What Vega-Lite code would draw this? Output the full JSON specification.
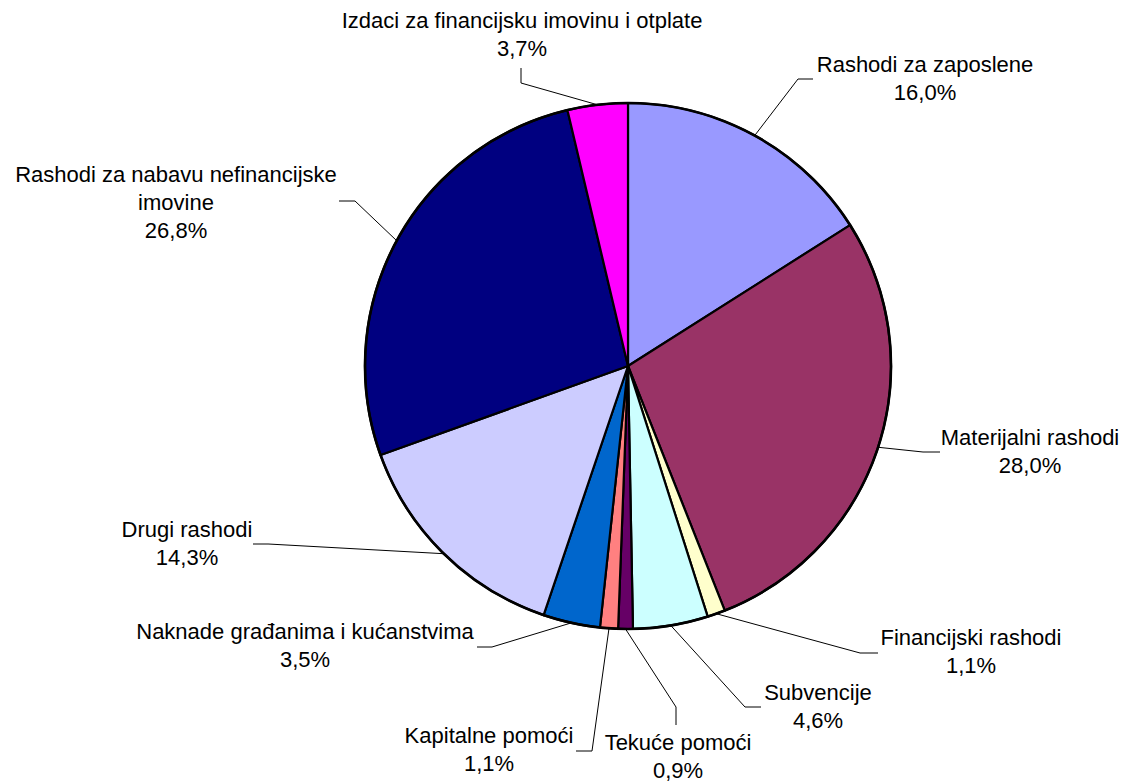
{
  "$schema": "https://vega.github.io/schema/vega-lite/v6.json",
  "width": 998,
  "height": 730,
  "autosize": {"type": "none"},
  "padding": {"left": 129, "top": 1, "right": 0, "bottom": 52},
  "background": "white",
  "config": {"view": {"stroke": null}},
  "data": {
    "values": [
      {"category": "Rashodi za zaposlene", "value": 16.0},
      {"category": "Materijalni rashodi", "value": 28.0},
      {"category": "Financijski rashodi", "value": 1.1},
      {"category": "Subvencije", "value": 4.6},
      {"category": "Tekuće pomoći", "value": 0.9},
      {"category": "Kapitalne pomoći", "value": 1.1},
      {"category": "Naknade građanima i kućanstvima", "value": 3.5},
      {"category": "Drugi rashodi", "value": 14.3},
      {"category": "Rashodi za nabavu nefinancijske imovine", "value": 26.8},
      {"category": "Izdaci za financijsku imovinu i otplate", "value": 3.7}
    ]
  },
  "transform": [
    {"window": [{"op": "row_number", "as": "idx"}]},
    {"joinaggregate": [{"op": "sum", "field": "value", "as": "total"}]},
    {"window": [{"op": "sum", "field": "value", "as": "cum"}], "sort": [{"field": "idx"}], "frame": [null, 0]},
    {"calculate": "(datum.cum - datum.value / 2) / datum.total * 2 * PI", "as": "a"},
    {"calculate": "263 * sin(datum.a)", "as": "ex"},
    {"calculate": "263 * cos(datum.a)", "as": "ey"},
    {"calculate": "replace(datum.category, 'nefinancijske ', 'nefinancijske\\n') + '\\n' + replace(format(datum.value, '.1f'), '.', ',') + '%'", "as": "label"},
    {"calculate": "({'Rashodi za zaposlene': [297, 294, 170, 287, 185, 287], 'Materijalni rashodi': [402, -79, 295, -86, 312, -86], 'Financijski rashodi': [343, -279, 232, -287, 250, -287], 'Subvencije': [190, -334, 117, -341, 133, -341], 'Tekuće pomoći': [50, -384, 48, -341, 48, -359], 'Kapitalne pomoći': [-139, -377, -36, -385, -52, -385], 'Naknade građanima i kućanstvima': [-323, -273, -136, -281, -151, -281], 'Drugi rashodi': [-441, -171, -360, -178, -375, -178], 'Rashodi za nabavu nefinancijske imovine': [-452, 184, -273, 165, -289, 165], 'Izdaci za financijsku imovinu i otplate': [-106, 338, -107, 283, -107, 298]})[datum.category]", "as": "L"},
    {"calculate": "datum.L[0]", "as": "lx"},
    {"calculate": "datum.L[1]", "as": "ly"},
    {"calculate": "datum.L[2]", "as": "kx"},
    {"calculate": "datum.L[3]", "as": "ky"},
    {"calculate": "datum.L[4]", "as": "nx"},
    {"calculate": "datum.L[5]", "as": "ny"}
  ],
  "layer": [
    {
      "mark": {"type": "arc", "outerRadius": 263, "stroke": "#000000", "strokeWidth": 2.2, "strokeJoin": "round"},
      "encoding": {
        "theta": {"field": "value", "type": "quantitative", "stack": true},
        "order": {"field": "idx", "type": "quantitative"},
        "color": {
          "field": "category",
          "type": "nominal",
          "scale": {
            "domain": ["Rashodi za zaposlene", "Materijalni rashodi", "Financijski rashodi", "Subvencije", "Tekuće pomoći", "Kapitalne pomoći", "Naknade građanima i kućanstvima", "Drugi rashodi", "Rashodi za nabavu nefinancijske imovine", "Izdaci za financijsku imovinu i otplate"],
            "range": ["#9999FF", "#993366", "#FFFFCC", "#CCFFFF", "#660066", "#FF8080", "#0066CC", "#CCCCFF", "#000080", "#FF00FF"]
          },
          "legend": null
        }
      }
    },
    {
      "transform": [{"aggregate": [{"op": "sum", "field": "value", "as": "all"}]}],
      "mark": {"type": "arc", "outerRadius": 263, "fillOpacity": 0, "stroke": "#000000", "strokeWidth": 2.6},
      "encoding": {
        "theta": {"field": "all", "type": "quantitative", "stack": true}
      }
    },
    {
      "mark": {"type": "rule", "color": "#000000", "strokeWidth": 1},
      "encoding": {
        "x": {"field": "ex", "type": "quantitative", "scale": {"domain": [-499, 499], "nice": false, "zero": false}, "axis": null},
        "y": {"field": "ey", "type": "quantitative", "scale": {"domain": [-365, 365], "nice": false, "zero": false}, "axis": null},
        "x2": {"field": "kx"},
        "y2": {"field": "ky"}
      }
    },
    {
      "mark": {"type": "rule", "color": "#000000", "strokeWidth": 1},
      "encoding": {
        "x": {"field": "kx", "type": "quantitative", "scale": {"domain": [-499, 499], "nice": false, "zero": false}, "axis": null},
        "y": {"field": "ky", "type": "quantitative", "scale": {"domain": [-365, 365], "nice": false, "zero": false}, "axis": null},
        "x2": {"field": "nx"},
        "y2": {"field": "ny"}
      }
    },
    {
      "mark": {"type": "text", "font": "Liberation Sans", "fontSize": 22, "lineBreak": "\n", "lineHeight": 28, "align": "center", "baseline": "alphabetic", "color": "#000000"},
      "encoding": {
        "x": {"field": "lx", "type": "quantitative", "scale": {"domain": [-499, 499], "nice": false, "zero": false}, "axis": null},
        "y": {"field": "ly", "type": "quantitative", "scale": {"domain": [-365, 365], "nice": false, "zero": false}, "axis": null},
        "text": {"field": "label", "type": "nominal"}
      }
    }
  ]
}
